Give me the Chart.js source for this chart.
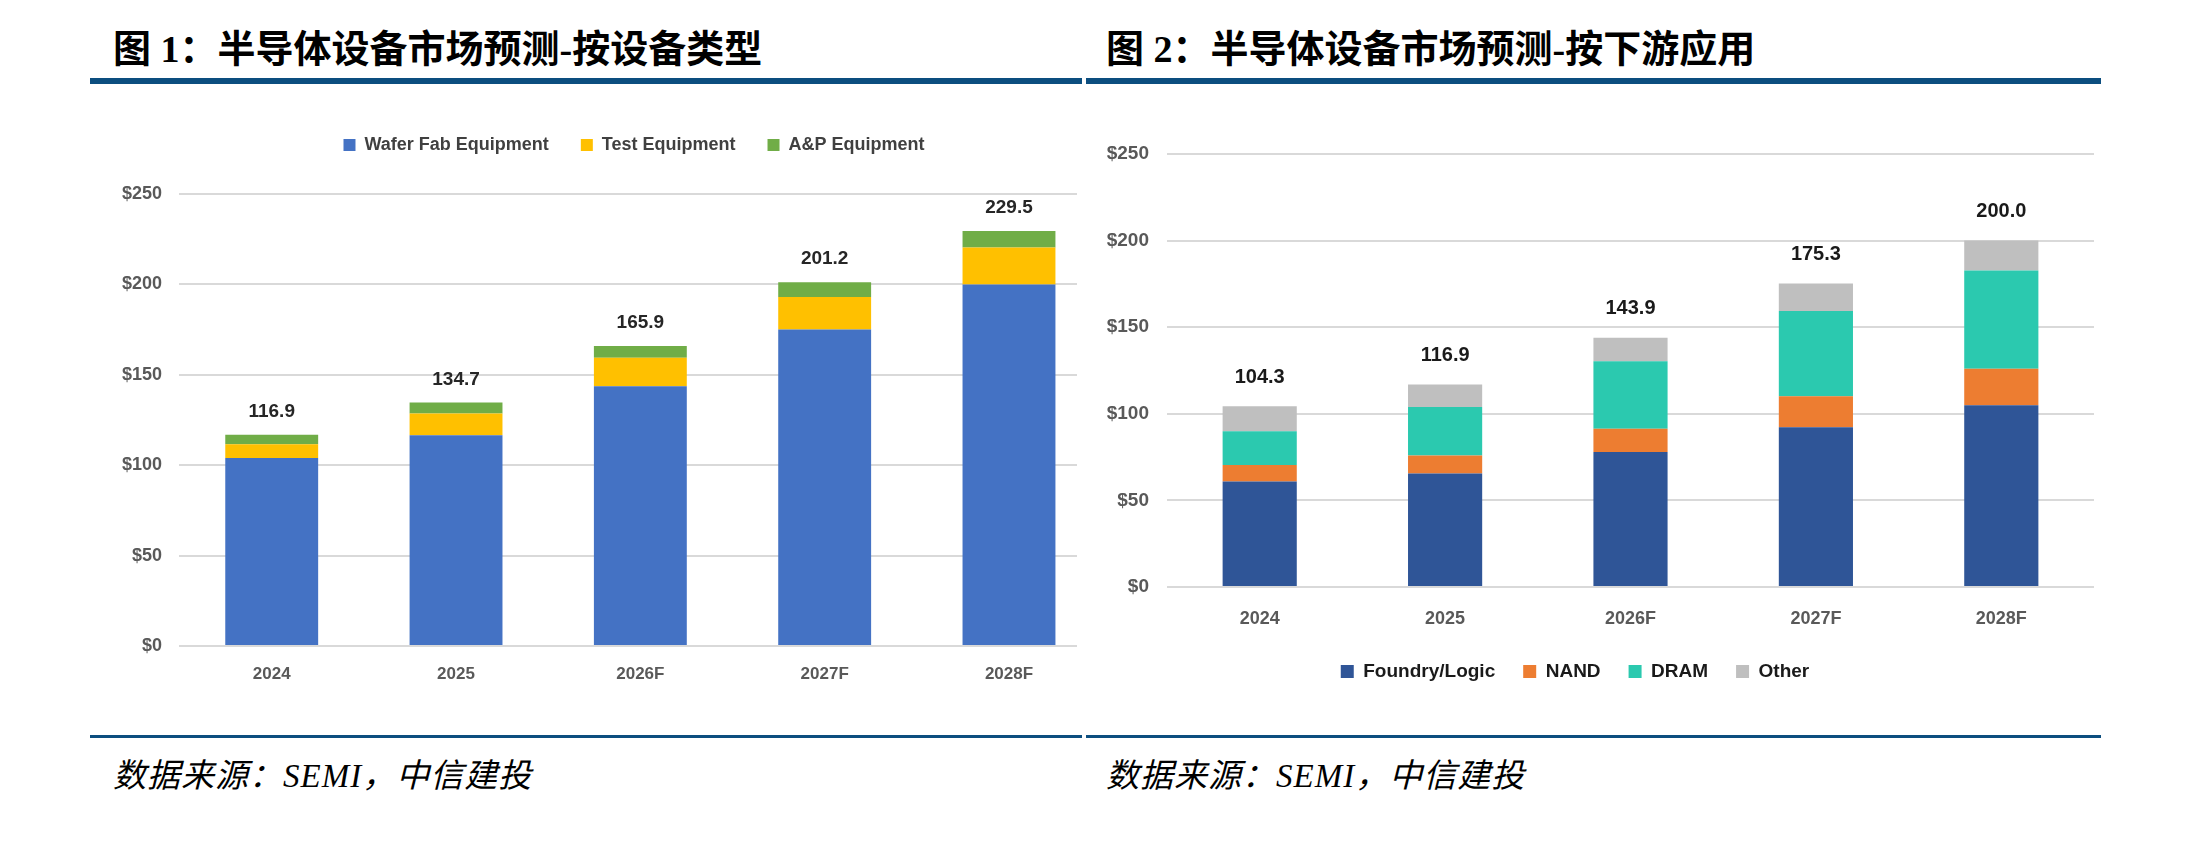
<!DOCTYPE html>
<html>
<head>
<meta charset="utf-8">
<title>半导体设备市场预测</title>
<script src="https://cdn.jsdelivr.net/npm/chart.js@4.4.1/dist/chart.umd.min.js"></script>
<style>
  html, body { margin: 0; padding: 0; background: #fff; }
  body { width: 2210px; height: 843px; position: relative; overflow: hidden; }
  .title { position: absolute; top: 27px; font-family: 'Liberation Serif', 'Noto Sans CJK SC', serif;
           font-weight: bold; font-size: 38px; line-height: 44px; color: #000; white-space: nowrap; }
  .rule { position: absolute; background: #0c4e7f; }
  .src { position: absolute; top: 757px; font-family: 'Liberation Serif', 'Noto Sans CJK SC', serif;
         font-style: italic; font-size: 33px; line-height: 38px; letter-spacing: 1px; color: #000; white-space: nowrap; }
  .box { position: absolute; }
</style>
</head>
<body>

<div class="title" style="left:113px">图 1：半导体设备市场预测-按设备类型</div>
<div class="title" style="left:1106px">图 2：半导体设备市场预测-按下游应用</div>
<div class="rule" style="left:90px; top:78px; width:992px; height:6px"></div>
<div class="rule" style="left:1086px; top:78px; width:1015px; height:6px"></div>

<div class="box" style="left:90px; top:104px; width:1088px; height:592px">
    <canvas id="byTypeChart"></canvas>
</div>
<div class="box" style="left:1056px; top:124px; width:1038px; height:567px">
    <canvas id="byAppChart"></canvas>
</div>

<div class="rule" style="left:90px; top:735px; width:992px; height:3px"></div>
<div class="rule" style="left:1086px; top:735px; width:1015px; height:3px"></div>
<div class="src" style="left:113px">数据来源：SEMI，中信建投</div>
<div class="src" style="left:1106px">数据来源：SEMI，中信建投</div>

<script>
    // values, $B
    var years = ['2024', '2025', '2026F', '2027F', '2028F'];

    var waferFab   = [104.0, 116.6, 143.6, 175.0, 200.0];
    var testEquip  = [7.6, 12.0, 15.8, 18.0, 20.4];
    var apEquip    = [5.3, 6.1, 6.5, 8.2, 9.1];
    var totalByType = [116.9, 134.7, 165.9, 201.2, 229.5];

    var foundryLogic = [60.9, 65.5, 78.0, 92.2, 105.0];
    var nand         = [9.5, 10.4, 13.4, 17.9, 21.0];
    var dram         = [19.5, 28.0, 39.0, 49.3, 56.7];
    var other        = [14.4, 13.0, 13.5, 15.9, 17.3];
    var totalByApp   = [104.3, 116.9, 143.9, 175.3, 200.0];

    var yMax = 250, yStep = 50;

    var FONT = "'Liberation Sans', Arial, sans-serif";
    Chart.defaults.font.family = FONT;
    Chart.defaults.font.weight = 'bold';

    // writes the stack total above each bar
    var totalsPlugin = {
        id: 'totals',
        afterDatasetsDraw: function (chart, args, opts) {
            var ctx = chart.ctx, x = chart.scales.x, y = chart.scales.y;
            ctx.save();
            ctx.font = 'bold ' + opts.size + 'px ' + FONT;
            ctx.fillStyle = opts.color;
            ctx.textAlign = 'center';
            ctx.textBaseline = 'middle';
            opts.values.forEach(function (v, i) {
                ctx.fillText(v.toFixed(1), x.getPixelForValue(i), y.getPixelForValue(v) - opts.offset);
            });
            ctx.restore();
        }
    };

    function pts(arr) {
        return arr.map(function (v, i) { return { x: i, y: v }; });
    }
    function dollar(v) { return '$' + v; }

    // chart 1 - by equipment type
    new Chart(document.getElementById('byTypeChart'), {
        type: 'bar',
        data: {
            datasets: [
                { label: 'Wafer Fab Equipment', data: pts(waferFab), backgroundColor: '#4472C4' },
                { label: 'Test Equipment', data: pts(testEquip), backgroundColor: '#FFC000' },
                { label: 'A&P Equipment', data: pts(apEquip), backgroundColor: '#70AD47' }
            ]
        },
        options: {
            responsive: true,
            maintainAspectRatio: false,
            animation: false,
            datasets: { bar: { categoryPercentage: 1, barPercentage: 0.504 } },
            scales: {
                x: {
                    type: 'linear', stacked: true, offset: false, min: -0.503, max: 4.369,
                    grid: { display: false }, border: { display: false },
                    ticks: {
                        stepSize: 1, includeBounds: false, padding: 10, maxRotation: 0,
                        color: '#595959', font: { size: 17 },
                        callback: function (v) { return years[v] || ''; }
                    },
                    afterFit: function (s) { s.height = 50; }
                },
                y: {
                    stacked: true, min: 0, max: yMax,
                    grid: { color: '#d9d9d9', lineWidth: 2, drawTicks: false },
                    border: { display: false },
                    ticks: { stepSize: yStep, padding: 17, color: '#595959', font: { size: 18 }, callback: dollar },
                    afterFit: function (s) { s.width = 89; }
                },
                pad: {
                    type: 'linear', position: 'right', display: true,
                    grid: { display: false }, border: { display: false }, ticks: { display: false },
                    afterFit: function (s) { s.width = 101; }
                }
            },
            plugins: {
                legend: {
                    position: 'top',
                    labels: { boxWidth: 12, boxHeight: 12, padding: 32, color: '#404040', font: { size: 18 } }
                },
                subtitle: { display: true, text: '', weight: 500, font: { size: 10 }, padding: { top: 0, bottom: 18 } },
                tooltip: { enabled: false },
                totals: { values: totalByType, size: 19, color: '#262626', offset: 23 }
            }
        },
        plugins: [totalsPlugin]
    });

    // chart 2 - by application
    new Chart(document.getElementById('byAppChart'), {
        type: 'bar',
        data: {
            labels: years,
            datasets: [
                { label: 'Foundry/Logic', data: foundryLogic, backgroundColor: '#2F5597' },
                { label: 'NAND', data: nand, backgroundColor: '#ED7D31' },
                { label: 'DRAM', data: dram, backgroundColor: '#2BC9AF' },
                { label: 'Other', data: other, backgroundColor: '#BFBFBF' }
            ]
        },
        options: {
            responsive: true,
            maintainAspectRatio: false,
            animation: false,
            layout: { padding: { top: 30 } },
            datasets: { bar: { categoryPercentage: 1, barPercentage: 0.4 } },
            scales: {
                x: {
                    stacked: true,
                    grid: { display: false }, border: { display: false },
                    ticks: { padding: 13, maxRotation: 0, color: '#595959', font: { size: 18 } },
                    afterFit: function (s) { s.height = 47; }
                },
                y: {
                    stacked: true, min: 0, max: yMax,
                    grid: { color: '#d9d9d9', lineWidth: 2, drawTicks: false },
                    border: { display: false },
                    ticks: { stepSize: yStep, padding: 18, color: '#595959', font: { size: 19 }, callback: dollar },
                    afterFit: function (s) { s.width = 111; }
                }
            },
            plugins: {
                legend: {
                    position: 'bottom',
                    labels: { boxWidth: 13, boxHeight: 13, padding: 28, color: '#1a1a1a', font: { size: 19 } }
                },
                tooltip: { enabled: false },
                totals: { values: totalByApp, size: 20, color: '#1a1a1a', offset: 29 }
            }
        },
        plugins: [totalsPlugin]
    });
</script>
</body>
</html>
